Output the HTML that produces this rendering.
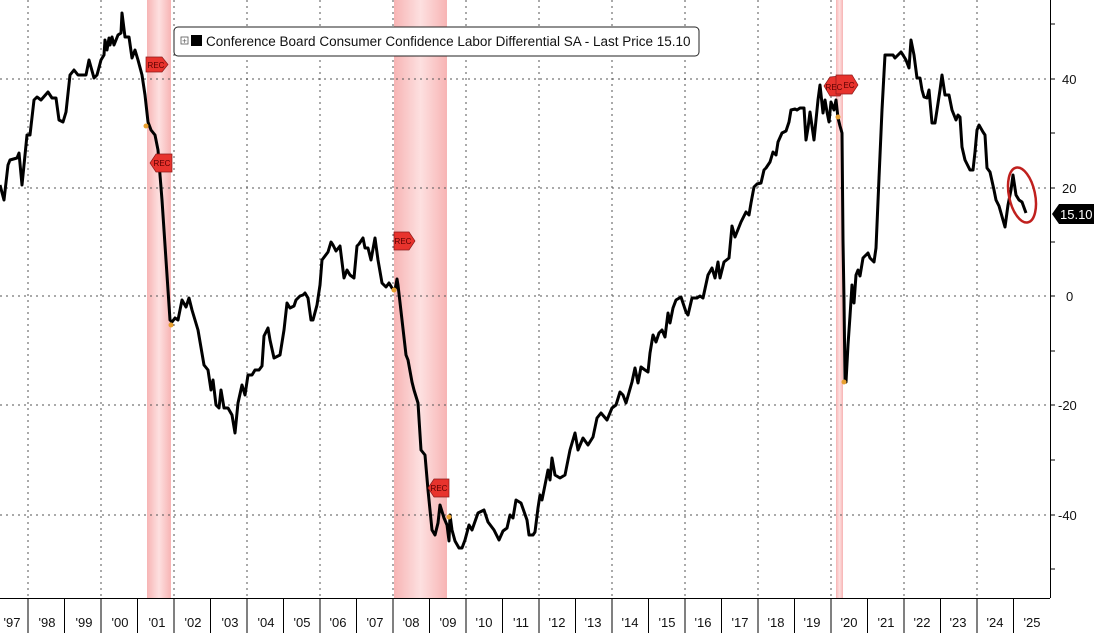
<!DOCTYPE html>
<html><head><meta charset="utf-8"><style>
body{margin:0;background:#fff;}
svg{display:block;font-family:"Liberation Sans",sans-serif;}
</style></head><body>
<svg width="1094" height="633" viewBox="0 0 1094 633">
<defs>
<linearGradient id="rg" x1="0" x2="1" y1="0" y2="0">
<stop offset="0" stop-color="#f7b4b4"/><stop offset="0.5" stop-color="#fde0e0"/><stop offset="1" stop-color="#f7b4b4"/>
</linearGradient>
</defs>
<rect width="1094" height="633" fill="#fff"/>
<rect x="147" y="0" width="24" height="598" fill="url(#rg)"/>
<rect x="394" y="0" width="53" height="598" fill="url(#rg)"/>
<rect x="836" y="0" width="7" height="598" fill="url(#rg)"/>
<g stroke="#555" stroke-width="1" stroke-dasharray="2,4">
<line x1="0" x2="1050" y1="79" y2="79"/><line x1="0" x2="1050" y1="188" y2="188"/><line x1="0" x2="1050" y1="296" y2="296"/><line x1="0" x2="1050" y1="405" y2="405"/><line x1="0" x2="1050" y1="515" y2="515"/>
<line x1="28" x2="28" y1="0" y2="598"/><line x1="101" x2="101" y1="0" y2="598"/><line x1="174" x2="174" y1="0" y2="598"/><line x1="247" x2="247" y1="0" y2="598"/><line x1="320" x2="320" y1="0" y2="598"/><line x1="393" x2="393" y1="0" y2="598"/><line x1="466" x2="466" y1="0" y2="598"/><line x1="539" x2="539" y1="0" y2="598"/><line x1="612" x2="612" y1="0" y2="598"/><line x1="685" x2="685" y1="0" y2="598"/><line x1="758" x2="758" y1="0" y2="598"/><line x1="831" x2="831" y1="0" y2="598"/><line x1="904" x2="904" y1="0" y2="598"/><line x1="977" x2="977" y1="0" y2="598"/>
</g>
<polyline fill="none" stroke="#000" stroke-width="3" stroke-linejoin="round" points="0,185 4,200 8,165 10,160 17,158 19,153 22,185 27,135 30,135 34,100 37,97 41,100 48,92 52,98 56,98 59,120 63,122 66,112 70,75 74,70 78,75 86,75 89,60 94,78 97,75 101,60 104,55 105,40 107,50 109,38 110,45 112,37 114,45 118,35 121,33 122,13 125,37 129,37 132,58 135,50 138,60 142,75 145,95 148,122 151,130 155,135 158,150 162,200 166,260 170,320 172,322 175,318 178,320 182,300 186,307 189,298 192,310 198,330 204,365 208,370 211,390 213,380 216,405 219,408 221,390 224,408 228,408 232,415 235,433 238,403 242,385 245,395 248,375 252,375 255,370 259,370 262,366 264,336 268,328 270,340 274,358 280,355 284,330 287,303 290,308 294,306 296,300 300,296 303,295 305,293 308,298 311,320 313,320 317,305 320,285 322,260 328,252 331,242 333,245 336,251 340,246 344,278 347,270 350,275 354,278 357,246 359,244 363,238 365,248 368,248 371,260 375,238 378,260 382,283 386,287 389,283 392,288 395,290 397,279 398,285 402,320 406,355 408,360 412,382 414,390 418,403 421,450 425,455 428,490 432,530 435,535 438,523 440,505 444,518 447,525 449,541 450,515 452,530 455,541 459,548 462,548 465,540 469,525 472,530 478,513 484,510 488,522 494,530 499,540 503,531 507,528 510,515 513,518 516,500 521,503 527,520 529,535 533,535 535,532 538,508 540,495 542,500 545,485 548,470 550,480 552,458 555,475 560,478 565,475 570,450 575,433 578,450 583,438 588,445 593,437 597,418 601,413 607,420 612,408 616,405 620,392 623,395 626,403 632,382 635,368 638,383 641,367 645,370 648,372 650,353 653,335 656,342 659,333 662,330 665,337 668,313 670,323 673,308 676,300 681,297 686,312 688,315 692,298 697,298 700,296 703,298 708,275 712,268 715,278 718,262 720,278 724,262 729,258 732,226 735,237 741,222 746,212 749,215 751,203 754,187 757,184 761,183 764,170 766,168 770,162 773,152 776,155 778,142 782,133 786,131 789,122 791,110 795,109 797,110 800,108 804,108 806,140 808,128 810,112 814,140 818,100 820,85 823,113 825,100 827,112 829,122 831,102 834,110 836,100 838,118 840,126 842,133 843,240 844,300 845,380 846,382 848,345 850,316 852,285 853,300 854,303 856,275 858,270 860,276 863,258 866,255 868,253 870,258 872,260 874,262 876,248 879,178 882,110 885,55 890,55 893,55 895,58 898,55 901,52 903,55 906,60 909,68 911,40 914,55 917,78 920,78 922,90 924,97 927,98 929,90 932,123 935,123 937,110 940,90 942,75 945,95 949,95 952,110 956,120 958,115 960,117 962,147 965,160 970,170 973,170 975,152 977,130 979,125 983,132 985,135 987,168 990,172 994,190 996,200 999,206 1001,213 1005,227 1008,205 1011,190 1013,175 1016,195 1019,200 1022,202 1026,213"/>
<g fill="#e8a030"><circle cx="146" cy="126" r="2.5"/><circle cx="171" cy="325" r="2.5"/><circle cx="394" cy="290" r="2.5"/><circle cx="449" cy="517" r="2.5"/><circle cx="838" cy="117" r="2.5"/><circle cx="844" cy="382" r="2.5"/></g>
<ellipse cx="1022" cy="195" rx="13" ry="28" transform="rotate(-12 1022 195)" fill="none" stroke="#c0201e" stroke-width="2.5"/>
<g fill="#e8332d" stroke="#8b1a1a" stroke-width="0.7">
<polygon points="146,57 162,57 168,64.5 162,72 146,72"/>
<polygon points="156,154 172,154 172,172 156,172 150,163"/>
<polygon points="394,232 409,232 415,241 409,250 394,250"/>
<polygon points="434,479 449,479 449,497 434,497 428,488"/>
<polygon points="824,86 830,77 840,76 846,86 840,96 830,96"/>
<polygon points="836,75 852,75 858,85 852,94 836,94"/>
</g>
<g font-size="8" fill="#5a0000" text-anchor="middle"><text x="156" y="68">REC</text><text x="162" y="166">REC</text><text x="403" y="244">REC</text><text x="439" y="491">REC</text><text x="834" y="90">REC</text><text x="849" y="88">EC</text></g>
<rect x="174" y="27" width="525" height="29" rx="4" fill="#fff" stroke="#222" stroke-width="1"/>
<rect x="181" y="37" width="7" height="7" fill="none" stroke="#555" stroke-width="0.8"/>
<text x="184.5" y="43.5" font-size="8" text-anchor="middle" fill="#555">+</text>
<rect x="191" y="35" width="11" height="11" fill="#000"/>
<text x="206" y="46" font-size="13.5" fill="#111">Conference Board Consumer Confidence Labor Differential SA - Last Price 15.10</text>
<line x1="1050.5" y1="0" x2="1050.5" y2="598" stroke="#000" stroke-width="1"/>
<g stroke="#000"><line x1="1050" x2="1055" y1="79" y2="79"/><line x1="1050" x2="1055" y1="188" y2="188"/><line x1="1050" x2="1055" y1="296" y2="296"/><line x1="1050" x2="1055" y1="405" y2="405"/><line x1="1050" x2="1055" y1="515" y2="515"/>
<line x1="1050" x2="1055" y1="24" y2="24"/><line x1="1050" x2="1055" y1="133" y2="133"/><line x1="1050" x2="1055" y1="242" y2="242"/><line x1="1050" x2="1055" y1="351" y2="351"/><line x1="1050" x2="1055" y1="460" y2="460"/><line x1="1050" x2="1055" y1="569" y2="569"/></g>
<g font-size="13" fill="#111"><text x="1062" y="84">40</text><text x="1062" y="193">20</text><text x="1066" y="301">0</text><text x="1058" y="410">-20</text><text x="1058" y="520">-40</text></g>
<polygon points="1052,214 1059,204 1094,204 1094,224 1059,224" fill="#000"/>
<text x="1060" y="219" font-size="13" fill="#fff">15.10</text>
<line x1="0" y1="598.5" x2="1050" y2="598.5" stroke="#000"/>
<g stroke="#000"><line x1="28" x2="28" y1="598" y2="633"/><line x1="64.5" x2="64.5" y1="598" y2="633"/><line x1="101" x2="101" y1="598" y2="633"/><line x1="137.5" x2="137.5" y1="598" y2="633"/><line x1="174" x2="174" y1="598" y2="633"/><line x1="210.5" x2="210.5" y1="598" y2="633"/><line x1="247" x2="247" y1="598" y2="633"/><line x1="283.5" x2="283.5" y1="598" y2="633"/><line x1="320" x2="320" y1="598" y2="633"/><line x1="356.5" x2="356.5" y1="598" y2="633"/><line x1="393" x2="393" y1="598" y2="633"/><line x1="429.5" x2="429.5" y1="598" y2="633"/><line x1="466" x2="466" y1="598" y2="633"/><line x1="502.5" x2="502.5" y1="598" y2="633"/><line x1="539" x2="539" y1="598" y2="633"/><line x1="575.5" x2="575.5" y1="598" y2="633"/><line x1="612" x2="612" y1="598" y2="633"/><line x1="648.5" x2="648.5" y1="598" y2="633"/><line x1="685" x2="685" y1="598" y2="633"/><line x1="721.5" x2="721.5" y1="598" y2="633"/><line x1="758" x2="758" y1="598" y2="633"/><line x1="794.5" x2="794.5" y1="598" y2="633"/><line x1="831" x2="831" y1="598" y2="633"/><line x1="867.5" x2="867.5" y1="598" y2="633"/><line x1="904" x2="904" y1="598" y2="633"/><line x1="940.5" x2="940.5" y1="598" y2="633"/><line x1="977" x2="977" y1="598" y2="633"/><line x1="1013.5" x2="1013.5" y1="598" y2="633"/></g>
<g font-size="13" fill="#111" text-anchor="middle"><text x="12" y="627">'97</text><text x="47" y="627">'98</text><text x="84" y="627">'99</text><text x="120" y="627">'00</text><text x="157" y="627">'01</text><text x="193" y="627">'02</text><text x="230" y="627">'03</text><text x="266" y="627">'04</text><text x="302" y="627">'05</text><text x="338" y="627">'06</text><text x="375" y="627">'07</text><text x="411" y="627">'08</text><text x="448" y="627">'09</text><text x="484" y="627">'10</text><text x="521" y="627">'11</text><text x="557" y="627">'12</text><text x="593" y="627">'13</text><text x="630" y="627">'14</text><text x="667" y="627">'15</text><text x="703" y="627">'16</text><text x="740" y="627">'17</text><text x="776" y="627">'18</text><text x="812" y="627">'19</text><text x="849" y="627">'20</text><text x="886" y="627">'21</text><text x="922" y="627">'22</text><text x="958" y="627">'23</text><text x="995" y="627">'24</text><text x="1032" y="627">'25</text></g>
</svg>
</body></html>
